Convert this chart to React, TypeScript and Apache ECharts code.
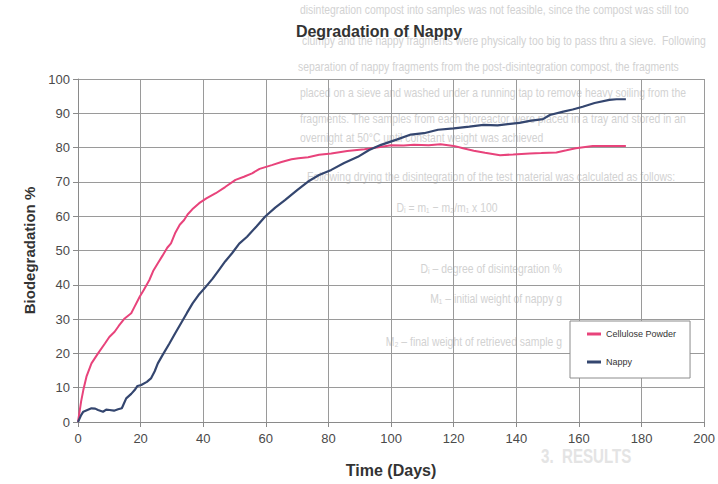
import React, { useEffect, useRef } from "react";
import * as echarts from "echarts";

const chartTitle = "Degradation of Nappy";
const xAxisName = "Time (Days)";
const yAxisName = "Biodegradation %";
const seriesNames = ["Cellulose Powder", "Nappy"];

// [day, biodegradation %]
const celluloseData: [number, number][] = [
  [0, 0], [1, 6], [1.7, 9.3], [2.7, 13.2], [4.3, 17.1], [6.4, 20], [8.6, 22.9], [10, 24.8],
  [11.7, 26.3], [13, 28], [14.9, 30.2], [17, 31.7], [18, 33.5], [19.7, 36.5], [21, 38.5],
  [22.8, 41.4], [24, 44], [25.5, 46.3], [27, 48.5], [28.5, 50.8], [29.7, 52.1], [31, 55],
  [32.5, 57.5], [33.9, 58.9], [35, 60.5], [36.5, 62], [38.7, 63.8], [41, 65.2], [44, 66.7],
  [47, 68.5], [50.3, 70.6], [53, 71.5], [55.6, 72.5], [58, 73.8], [61.9, 74.9], [65, 75.8],
  [68.2, 76.6], [70.4, 76.9], [73.5, 77.2], [77, 77.9], [80.9, 78.3], [86, 79.0], [91.5, 79.5],
  [96, 80.1], [100, 80.7], [104, 80.6], [107.3, 80.8], [112, 80.7], [115.8, 81], [120, 80.5],
  [123, 79.8], [126.4, 79.1], [130, 78.5], [134.8, 77.8], [139, 78.0], [144.3, 78.3],
  [148, 78.4], [152.8, 78.6], [156, 79.2], [159, 79.8], [164.4, 80.5], [170, 80.5], [175, 80.5],
];

const nappyData: [number, number][] = [
  [0, 0], [1, 2], [1.7, 3], [3, 3.5], [4.3, 4], [5.5, 3.9], [6.4, 3.5], [8, 3], [9, 3.6],
  [10.1, 3.5], [11.5, 3.3], [12.8, 3.7], [14, 4], [15.4, 6.9], [17, 8.2], [18.1, 9.3],
  [19, 10.5], [20.2, 10.8], [22, 11.7], [23.3, 12.7], [24.5, 14.8], [25.5, 17.1], [27, 19.5],
  [29.2, 22.9], [31, 25.8], [32.9, 28.8], [34.8, 31.8], [36.6, 34.6], [38.5, 37], [40.8, 39.4],
  [43, 41.8], [45, 44.3], [47, 46.8], [49.2, 49.2], [51.5, 52], [54, 54], [57, 57], [59.8, 59.9],
  [63, 62.5], [66.1, 64.7], [70, 67.6], [73.5, 70.1], [77, 72], [80.9, 73.5], [85, 75.5],
  [89.4, 77.3], [93, 79.3], [96.8, 80.8], [102, 82.4], [106.3, 83.8], [110.5, 84.2], [115, 85.2],
  [120, 85.6], [125, 86.1], [129.5, 86.6], [134, 86.5], [138, 86.9], [141, 87.2], [144.3, 87.8],
  [148.5, 88.3], [150.7, 89.5], [155, 90.5], [158, 91.1], [161.2, 91.9], [165, 93],
  [169.7, 93.9], [172, 94.1], [175, 94.1],
];

// faint text showing through the scanned page
const bleedParagraph = [
  "disintegration compost into samples was not feasible, since the compost was still too",
  "clumpy and the nappy fragments were physically too big to pass thru a sieve.  Following",
  "separation of nappy fragments from the post-disintegration compost, the fragments",
  "placed on a sieve and washed under a running tap to remove heavy soiling from the",
  "fragments. The samples from each bioreactor were placed in a tray and stored in an",
  "overnight at 50°C until constant weight was achieved",
  "Following drying the disintegration of the test material was calculated as follows:",
];
const bleedFormula = "Dᵢ = m₁ − m₂/m₁ x 100";
const bleedList = [
  "Dᵢ – degree of disintegration %",
  "M₁ – initial weight of nappy g",
  "M₂ – final weight of retrieved sample g",
];
const bleedHeading = "3.  RESULTS";

const FONT = "'Liberation Sans', Arial, sans-serif";
const BLEED = "#d2d2d2";

export default function App() {
  const ref = useRef<HTMLDivElement>(null);
  useEffect(() => {
    if (!ref.current) return;
    const chart = echarts.init(ref.current, null, { renderer: "svg" });
    const paraY = [9, 40, 66, 92, 118, 137, 176];
    const paraX = [300, 302, 298, 300, 300, 300, 307];
    const listY = [268, 298, 341];
    const graphics: any[] = [];
    const faint = (t: string, x: number, y: number, align: string, font: string, fill = BLEED, sx = 0.8) => ({
      type: "text", x, y, scaleX: sx, z: -10, silent: true,
      style: { text: t, fill, font, align, verticalAlign: "middle" },
    });
    bleedParagraph.forEach((t, i) => {
      graphics.push(faint(t, paraX[i], paraY[i], "left", `13px ${FONT}`));
    });
    graphics.push(faint(bleedFormula, 447, 207, "center", `13px ${FONT}`));
    bleedList.forEach((t, i) => {
      graphics.push(faint(t, 562, listY[i], "right", `13px ${FONT}`));
    });
    graphics.push(faint(bleedHeading, 541, 456, "left", `bold 21px ${FONT}`, "#e4e4e4", 0.72));

    chart.setOption({
      animation: false,
      backgroundColor: "#ffffff",
      graphic: graphics,
      title: {
        text: chartTitle,
        left: 374,
        top: 18,
        textAlign: "center",
        textStyle: { fontFamily: FONT, fontSize: 16, fontWeight: "bold", color: "#333333" },
      },
      legend: {
        orient: "vertical",
        left: 570,
        top: 321,
        width: 119,
        padding: [7, 14, 10, 17],
        itemGap: 16,
        itemWidth: 14,
        itemHeight: 3,
        icon: "rect",
        backgroundColor: "#ffffff",
        borderColor: "#8c8c8c",
        borderWidth: 1,
        borderRadius: 0,
        textStyle: { fontFamily: FONT, fontSize: 9, color: "#333333", lineHeight: 12 },
        data: seriesNames,
      },
      grid: { left: 78, right: 10, top: 79, bottom: 62 },
      xAxis: {
        type: "value",
        min: 0,
        max: 200,
        interval: 20,
        name: xAxisName,
        nameLocation: "middle",
        nameGap: 40,
        nameTextStyle: { fontFamily: FONT, fontSize: 16, fontWeight: "bold", color: "#333333" },
        axisLine: { show: true, lineStyle: { color: "#8a8a8a", width: 1 } },
        axisTick: { show: true, length: 5, lineStyle: { color: "#8a8a8a" } },
        axisLabel: { fontFamily: FONT, fontSize: 13, color: "#4a4a4a", margin: 10 },
        splitLine: { show: true, lineStyle: { color: "#9a9a9a", width: 1 } },
      },
      yAxis: {
        type: "value",
        min: 0,
        max: 100,
        interval: 10,
        name: yAxisName,
        nameLocation: "middle",
        nameGap: 38,
        nameTextStyle: { fontFamily: FONT, fontSize: 15, fontWeight: "bold", color: "#333333" },
        axisLine: { show: true, lineStyle: { color: "#8a8a8a", width: 1 } },
        axisTick: { show: true, length: 5, lineStyle: { color: "#8a8a8a" } },
        axisLabel: { fontFamily: FONT, fontSize: 13, color: "#4a4a4a", margin: 8 },
        splitLine: { show: true, lineStyle: { color: "#9a9a9a", width: 1 } },
      },
      series: [
        {
          name: seriesNames[0],
          type: "line",
          data: celluloseData,
          showSymbol: false,
          color: "#e8437b",
          lineStyle: { width: 2, color: "#e8437b" },
          z: 3,
        },
        {
          name: seriesNames[1],
          type: "line",
          data: nappyData,
          showSymbol: false,
          color: "#34466f",
          lineStyle: { width: 2.2, color: "#34466f" },
          z: 4,
        },
      ],
    });
    return () => chart.dispose();
  }, []);
  return <div ref={ref} style={{ width: 718, height: 484, position: "absolute", left: 0, top: 0 }} />;
}
